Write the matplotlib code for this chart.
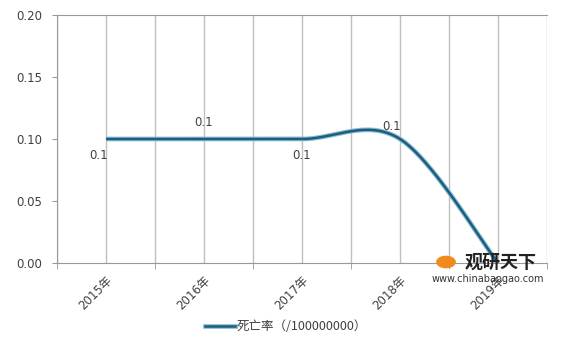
import numpy as np
import matplotlib
matplotlib.use("Agg")
import matplotlib.pyplot as plt
import matplotlib.patheffects as pe
import matplotlib.patches as mpatches
from matplotlib.lines import Line2D

plt.rcParams['font.family'] = ['DejaVu Sans', 'Noto Sans CJK SC']

categories = ["2015年", "2016年", "2017年", "2018年", "2019年"]
values = [0.1, 0.1, 0.1, 0.1, 0.0]
labels = ["0.1", "0.1", "0.1", "0.1", "0"]
series_name = "死亡率（/100000000）"
yticks = [0.00, 0.05, 0.10, 0.15, 0.20]


def smooth(xs, ys, n=60):
    # Excel-style Catmull-Rom Bezier smoothing
    P = np.column_stack([xs, ys]).astype(float)
    out = []
    for i in range(len(P) - 1):
        p0 = P[i - 1] if i > 0 else P[i]
        p1, p2 = P[i], P[i + 1]
        p3 = P[i + 2] if i + 2 < len(P) else P[i + 1]
        c1 = p1 + (p2 - p0) / 6
        c2 = p2 - (p3 - p1) / 6
        t = np.linspace(0, 1, n)[:, None]
        seg = (1 - t) ** 3 * p1 + 3 * (1 - t) ** 2 * t * c1 + 3 * (1 - t) * t ** 2 * c2 + t ** 3 * p2
        out.append(seg if i == 0 else seg[1:])
    return np.vstack(out)


fig = plt.figure(figsize=(5.72, 3.51), dpi=100)
ax = fig.add_axes([57 / 572, 1 - 263 / 351, (547 - 57) / 572, (263 - 15) / 351])

x = np.arange(len(categories))
curve = smooth(x, values)

grid_c = "#BFBFBF"
for gx in np.arange(-0.5, len(categories), 0.5):
    ax.axvline(gx, color=grid_c, lw=1, zorder=1)

ax.plot(curve[:, 0], curve[:, 1], color="#8DBBD2", lw=3.4, solid_capstyle="butt", zorder=3)
ax.plot(curve[:, 0], curve[:, 1], color="#1B5E80", lw=1.8, solid_capstyle="butt", zorder=4)

ax.set_xlim(-0.5, len(categories) - 0.5)
ax.set_ylim(0, 0.2)
ax.set_yticks(yticks)
ax.set_yticklabels([f"{v:.2f}" for v in yticks], fontsize=8.5, color="#404040")
ax.set_xticks(x)
ax.set_xticklabels(categories, rotation=45, ha="right", rotation_mode="anchor",
                   fontsize=8.5, color="#404040")
ax.set_xticks(np.arange(-0.5, len(categories), 1.0), minor=True)
ax.tick_params(axis="x", which="major", length=0, pad=8)
ax.tick_params(axis="x", which="minor", length=4, color="#999999")
ax.tick_params(axis="y", length=3.6, color="#999999", pad=7)

for s in ["left", "bottom", "top"]:
    ax.spines[s].set_color("#999999")
ax.spines["right"].set_visible(False)

offsets = [(-5, -12), (0, 12), (0, -12), (-6, 9), (0, 0)]
for i, (v, lab) in enumerate(zip(values, labels)):
    if i == len(values) - 1:
        continue
    ax.annotate(lab, (x[i], v), xytext=offsets[i], textcoords="offset points",
                ha="center", va="center", fontsize=8.5, color="#404040", zorder=5)

# watermark
fig.text(465 / 572, 1 - 262 / 351, "观研天下", fontsize=13, fontweight="bold",
         family=["Noto Sans CJK SC"],
         color="#222222", ha="left", va="center", zorder=10)
fig.text(432 / 572, 1 - 279 / 351, "www.chinabaogao.com", fontsize=7,
         color="#333333", ha="left", va="center", zorder=10)
fig.patches.append(mpatches.Circle((446 / 572, 1 - 262 / 351), 0.016,
                                   transform=fig.transFigure, color="#F08A1C", zorder=9))

handle = Line2D([], [], color="#1B5E80", lw=1.8,
                path_effects=[pe.Stroke(linewidth=3.4, foreground="#8DBBD2"), pe.Normal()])
fig.legend([handle], [series_name], loc="center", bbox_to_anchor=(0.5, 1 - 327 / 351),
           frameon=False, fontsize=8.5, handlelength=2.4, handletextpad=0.1,
           labelcolor="#404040", prop={"family": ["Noto Sans CJK SC", "DejaVu Sans"], "size": 9})

fig.savefig("out.png", dpi=100)
